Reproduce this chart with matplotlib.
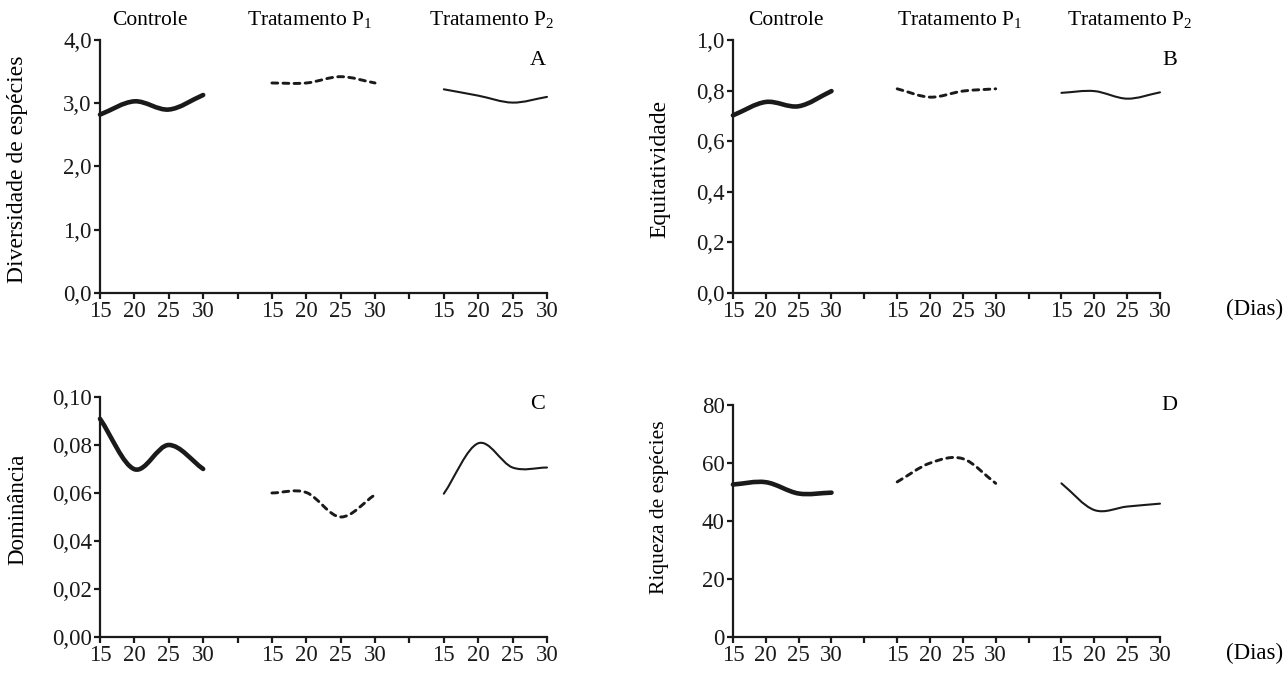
import numpy as np
import matplotlib
matplotlib.use("Agg")
import matplotlib.pyplot as plt
from matplotlib.path import Path
from matplotlib.patches import PathPatch
from matplotlib.ticker import FuncFormatter

plt.rcParams['font.family'] = ['Liberation Serif', 'DejaVu Serif']
plt.rcParams['mathtext.fontset'] = 'custom'
plt.rcParams['mathtext.rm'] = 'Liberation Serif'

# dias de coleta (repetidos em cada grupo) e posicoes no eixo
dias = ["15", "20", "25", "30"]
pos_controle = [0, 1, 2, 3]
pos_p1 = [5, 6, 7, 8]
pos_p2 = [10, 11, 12, 13]

# A - Diversidade de especies
div_controle = [2.82, 3.03, 2.90, 3.13]
div_p1 = [3.32, 3.32, 3.42, 3.32]
div_p2 = [3.22, 3.12, 3.01, 3.10]

# B - Equitatividade
eq_controle = [0.702, 0.755, 0.738, 0.798]
eq_p1 = [0.807, 0.774, 0.798, 0.807]
eq_p2 = [0.791, 0.798, 0.768, 0.793]

# C - Dominancia
dom_controle = [0.0909, 0.0699, 0.0800, 0.0700]
dom_p1 = [0.0600, 0.0602, 0.0500, 0.0593]
dom_p2 = [0.0597, 0.0807, 0.0706, 0.0706]

# D - Riqueza de especies
riq_controle = [52.6, 53.4, 49.5, 49.8]
riq_p1 = [53.5, 60.0, 61.5, 53.0]
riq_p2 = [53.0, 43.8, 45.0, 46.0]


def curva_suave(ax, xs, ys, **kw):
    """Linha suavizada (tipo Excel) via Bezier por Catmull-Rom."""
    pts = np.column_stack([xs, ys]).astype(float)
    ext = np.vstack([2 * pts[0] - pts[1], pts, 2 * pts[-1] - pts[-2]])
    verts = [pts[0]]
    codes = [Path.MOVETO]
    for i in range(1, len(ext) - 2):
        p0, p1, p2, p3 = ext[i - 1], ext[i], ext[i + 1], ext[i + 2]
        c1 = p1 + (p2 - p0) / 6.0
        c2 = p2 - (p3 - p1) / 6.0
        verts += [c1, c2, p2]
        codes += [Path.CURVE4] * 3
    patch = PathPatch(Path(verts, codes), fill=False, clip_on=False,
                      capstyle='round', joinstyle='round', **kw)
    ax.add_patch(patch)


def formata(casas):
    return FuncFormatter(lambda v, p: f"{v:.{casas}f}".replace(".", ","))


fig = plt.figure(figsize=(12.87, 6.78), dpi=100)

# posicao, series, limites y, passo, casas, rotulo y (tam, x, y), letra (x, y)
paineis = [
    ([0.0777, 0.568, 0.3473, 0.373], div_controle, div_p1, div_p2, (0, 4), 1, 1,
     "Diversidade de espécies", 17, -0.185, 0.49, "A", 0.98, 0.92),
    ([0.5695, 0.568, 0.3318, 0.373], eq_controle, eq_p1, eq_p2, (0, 1), 0.2, 1,
     "Equitatividade", 17, -0.171, 0.49, "B", 1.023, 0.92),
    ([0.0777, 0.0605, 0.3473, 0.354], dom_controle, dom_p1, dom_p2, (0, 0.1), 0.02, 2,
     "Dominância", 16.5, -0.185, 0.53, "C", 0.98, 0.967),
    ([0.5695, 0.0605, 0.3318, 0.342], riq_controle, riq_p1, riq_p2, (0, 80), 20, 0,
     "Riqueza de espécies", 15.5, -0.171, 0.56, "D", 1.023, 1.0),
]

todas_pos = list(range(14))
rotulos_x = dias + [""] + dias + [""] + dias
cor = "#1a1a1a"

for i, (ret, ctrl, p1, p2, ylim, passo, casas,
        ylabel, ytam, yx, yy, letra, lx, ly) in enumerate(paineis):
    ax = fig.add_axes(ret)
    ax.set_xlim(0, 13)
    ax.set_ylim(*ylim)
    ax.set_xticks(todas_pos)
    ax.set_xticklabels(rotulos_x)
    ax.set_yticks(np.arange(ylim[0], ylim[1] + passo / 2, passo))
    ax.yaxis.set_major_formatter(formata(casas))
    for s in ["top", "right"]:
        ax.spines[s].set_visible(False)
    for s in ["left", "bottom"]:
        ax.spines[s].set_linewidth(1.6)
        ax.spines[s].set_color(cor)
    ax.tick_params(direction="out", length=4.5, width=1.6, labelsize=16.5,
                   colors=cor, pad=1.5)

    curva_suave(ax, pos_controle, ctrl, lw=3.3, color=cor)
    curva_suave(ax, pos_p1, p1, lw=2.1, color=cor, linestyle=(0, (2.0, 1.8)))
    curva_suave(ax, pos_p2, p2, lw=1.5, color=cor)

    ax.set_ylabel(ylabel, fontsize=ytam, va="center")
    ax.yaxis.set_label_coords(yx, yy)
    ax.text(lx, ly, letra, transform=ax.transAxes, fontsize=16,
            ha="center", va="center")

    if i < 2:
        if i == 0:
            cx = [0.112, 0.47, 0.877]
        else:
            cx = [0.124, 0.532, 0.93]
        titulos = ["Controle", r"Tratamento $\mathrm{P}_{1}$",
                   r"Tratamento $\mathrm{P}_{2}$"]
        for x, t in zip(cx, titulos):
            ax.text(x, 1.078, t, transform=ax.transAxes, fontsize=15.5,
                    ha="center", va="center")
    if i % 2 == 1:
        ax.text(1.222, -0.065 * 0.373 / ret[3], "(Dias)", transform=ax.transAxes,
                fontsize=16.5, ha="center", va="center")

fig.savefig("out.png", dpi=100)
